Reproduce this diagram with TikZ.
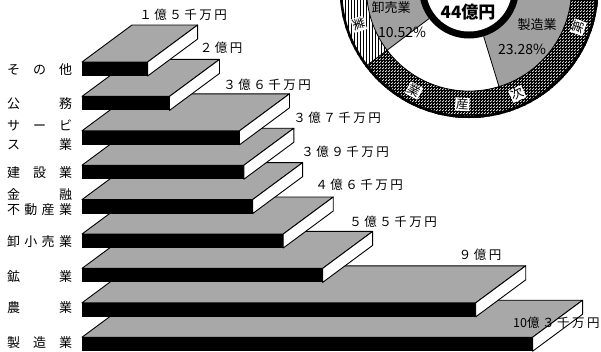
\documentclass[tikz,border=0pt]{standalone}
\usepackage{fontspec}
\setmainfont{Noto Sans CJK JP}
\usetikzlibrary{patterns}
\definecolor{bargray}{RGB}{168,168,168}
\definecolor{piegray}{RGB}{160,160,160}
\newcommand\gk{\kern2.5pt}
\newcommand\spreadlabel[1]{\makebox[65pt]{#1}}
\tikzset{
  topface/.style={fill=bargray, draw=black, line width=0.9pt, line join=round},
  frontface/.style={fill=black},
  sideface/.style={fill=white, draw=black, line width=0.9pt, line join=round},
  rowlabel/.style={font=\fontsize{13}{13}\selectfont, inner sep=0pt},
  vallabel/.style={font=\fontsize{12.5}{12.5}\selectfont, inner sep=0pt},
  pielabel/.style={font=\fontsize{13}{13}\selectfont, inner sep=0pt},
  pctlabel/.style={font=\fontsize{14}{14}\selectfont, inner sep=0pt},
  bandlabel/.style={font=\fontsize{12.5}{12.5}\selectfont, fill=white, inner sep=0.8pt},
  sectorline/.style={draw=black, line width=0.8pt},
}
\begin{document}
\begin{tikzpicture}[x=1pt, y=-1pt]
\useasboundingbox (0,0) rectangle (601,351);
\clip (0,0) rectangle (601,351);
\fill[white] (0,0) rectangle (601,351);

% ---------- pie chart ----------
\begin{scope}[shift={(469,-11.5)}, x=1pt, y=1pt]
  \fill[white] (0,0) circle (129.5);
  \fill[piegray] (0,0) -- (179:102.6) arc[start angle=179, end angle=217, radius=102.6] -- cycle;
  \fill[piegray] (0,0) -- (287:102.6) arc[start angle=287, end angle=371, radius=102.6] -- cycle;
  % outer band
  \path[pattern=vertical lines] (217:129.5) arc[start angle=217, end angle=100, radius=129.5]
     -- (100:102.6) arc[start angle=100, end angle=217, radius=102.6] -- cycle;
  \path[pattern=crosshatch] (217:129.5) arc[start angle=217, end angle=385, radius=129.5]
     -- (385:102.6) arc[start angle=385, end angle=217, radius=102.6] -- cycle;
  \path[pattern=grid] (217:129.5) arc[start angle=217, end angle=385, radius=129.5]
     -- (385:102.6) arc[start angle=385, end angle=217, radius=102.6] -- cycle;
  \draw[sectorline] (0,0) circle (102.6);
  \draw[sectorline] (217:50) -- (217:129.5);
  \draw[sectorline] (287:50) -- (287:102.6);
  \draw[black, line width=2.6pt] (0,0) circle (128.2);
  % centre ring
  \fill[black] (0,0) circle (50);
  \fill[white] (0,0) circle (43);
  % band characters
  \node[bandlabel, rotate=288]   (band1) at (198:116)   {業};
  \node[bandlabel, rotate=331.7] (band2) at (241.7:116) {業};
  \node[bandlabel, rotate=356.7] (band3) at (266.7:116) {産};
  \node[bandlabel, rotate=24.6]  (band4) at (294.6:116) {次};
  \node[bandlabel, rotate=70.5]  (band5) at (340.5:116) {第};
\end{scope}
\node[font=\fontsize{17}{17}\selectfont\bfseries, inner sep=0pt] (total) at (468,12) {44億円};
\node[pielabel] (oroshi) at (391,8) {卸売業};
\node[pctlabel] (oroship) at (402,32) {10.52\%};
\node[pielabel] (seizo) at (537,25) {製造業};
\node[pctlabel] (seizop) at (522,49) {23.28\%};

% ---------- bars ----------
\foreach \yt/\v in {337.2/10.3, 302.8/9, 268.4/5.5, 234/4.6, 199.6/3.9, 165.2/3.7, 130.8/3.6, 96.4/2, 62/1.5} {
  \pgfmathsetmacro\xr{82+43.75*\v}
  \draw[topface] (82,\yt) -- ({\xr},\yt) -- ++(50,-37) -- (132,{\yt-37}) -- cycle;
  \fill[frontface] (82,\yt) rectangle ({\xr},{\yt+14});
  \draw[sideface] ({\xr},\yt) -- ++(50,-37) -- ++(0,14) -- ({\xr},{\yt+14}) -- cycle;
}

% ---------- row labels ----------
\node[rowlabel] (r1)  at (39.5,70)  {\spreadlabel{そ\hfill の\hfill 他}};
\node[rowlabel] (r2)  at (39.5,104) {\spreadlabel{公\hfill 務}};
\node[rowlabel] (r3a) at (39.5,125) {\spreadlabel{サ\hfill ー\hfill ビ}};
\node[rowlabel] (r3b) at (39.5,145) {\spreadlabel{ス\hfill 業}};
\node[rowlabel] (r4)  at (39.5,173) {\spreadlabel{建\hfill 設\hfill 業}};
\node[rowlabel] (r5a) at (39.5,195) {\spreadlabel{金\hfill 融}};
\node[rowlabel] (r5b) at (39.5,210) {\spreadlabel{不\hfill 動\hfill 産\hfill 業}};
\node[rowlabel] (r6)  at (39.5,242) {\spreadlabel{卸\hfill 小\hfill 売\hfill 業}};
\node[rowlabel] (r7)  at (39.5,277) {\spreadlabel{鉱\hfill 業}};
\node[rowlabel] (r8)  at (39.5,308) {\spreadlabel{農\hfill 業}};
\node[rowlabel] (r9)  at (39.5,343) {\spreadlabel{製\hfill 造\hfill 業}};

% ---------- value labels ----------
\node[vallabel] (v1) at (183,15)  {１\gk 億\gk ５\gk 千\gk 万\gk 円};
\node[vallabel] (v2) at (221,48)  {２\gk 億\gk 円};
\node[vallabel] (v3) at (267,85)  {３\gk 億\gk ６\gk 千\gk 万\gk 円};
\node[vallabel] (v4) at (337,118) {３\gk 億\gk ７\gk 千\gk 万\gk 円};
\node[vallabel] (v5) at (345,152) {３\gk 億\gk ９\gk 千\gk 万\gk 円};
\node[vallabel] (v6) at (359,185) {４\gk 億\gk ６\gk 千\gk 万\gk 円};
\node[vallabel] (v7) at (393,222) {５\gk 億\gk ５\gk 千\gk 万\gk 円};
\node[vallabel] (v8) at (480,255) {９\gk 億\gk 円};
\node[vallabel, anchor=west] (v9) at (513,323) {10億\gk ３\gk 千\gk 万\gk 円};
\end{tikzpicture}
\end{document}
